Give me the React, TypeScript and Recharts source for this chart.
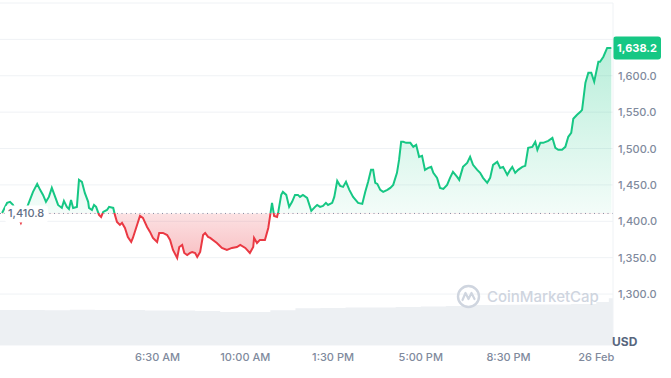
import { ComposedChart, Area, XAxis, YAxis, CartesianGrid, ReferenceLine } from 'recharts';

// minutes since 25 Feb 00:00
const times = [
  18, 30, 37, 44, 49, 63, 80, 92, 102, 109, 116, 123, 130, 137, 145, 152, 161, 166, 173, 178,
  183, 188, 197, 202, 209, 216, 224, 226, 233, 238, 243, 250, 255, 260, 269, 274, 284, 288, 293, 300,
  305, 312, 319, 327, 331, 341, 348, 355, 365, 372, 379, 389, 394, 403, 413, 420, 427, 437, 442, 449,
  454, 461, 468, 473, 480, 485, 492, 499, 504, 511, 516, 532, 544, 556, 568, 580, 588, 600, 611, 619,
  621, 628, 635, 647, 655, 659, 664, 669, 676, 679, 686, 690, 698, 705, 712, 719, 726, 731, 738, 748,
  758, 767, 772, 779, 786, 793, 798, 808, 813, 820, 827, 834, 841, 849, 858, 870, 880, 887, 894, 901,
  906, 911, 916, 923, 930, 940, 947, 954, 963, 968, 973, 978, 985, 995, 1002, 1009, 1016, 1023, 1030, 1038,
  1045, 1050, 1059, 1066, 1074, 1083, 1090, 1097, 1107, 1112, 1121, 1131, 1138, 1145, 1155, 1162, 1169, 1179, 1186, 1193,
  1203, 1210, 1217, 1227, 1234, 1239, 1246, 1253, 1263, 1270, 1277, 1287, 1294, 1299, 1306, 1313, 1325, 1335, 1342, 1349,
  1358, 1366, 1373, 1380, 1385, 1394, 1402, 1406, 1414, 1421, 1428, 1435, 1445, 1449, 1457, 1466, 1476,
];

const prices = [
  1411.5, 1425.3, 1426.7, 1422.5, 1415.6, 1397.8, 1422.5, 1440.4, 1451.4, 1443.2, 1436.3, 1426.7, 1433.5, 1445.9, 1433.5, 1422.5, 1418.4, 1428.0, 1419.8, 1417.0,
  1429.4, 1418.4, 1419.8, 1456.9, 1454.2, 1439.0, 1426.7, 1418.4, 1415.6, 1422.5, 1419.8, 1408.8, 1406.0, 1412.9, 1415.6, 1419.8, 1418.4, 1408.8, 1399.1, 1395.0,
  1397.8, 1390.9, 1378.5, 1371.6, 1377.1, 1395.0, 1407.4, 1404.6, 1392.2, 1385.4, 1377.1, 1371.6, 1384.0, 1384.0, 1381.2, 1374.4, 1360.6, 1349.6, 1364.7, 1367.5,
  1356.5, 1353.7, 1356.5, 1357.8, 1356.5, 1351.0, 1357.8, 1381.2, 1384.0, 1378.5, 1377.1, 1370.2, 1363.4, 1360.6, 1363.4, 1364.7, 1367.5, 1363.4, 1356.5, 1364.7,
  1377.1, 1370.2, 1374.4, 1374.4, 1390.9, 1406.0, 1425.3, 1407.4, 1406.0, 1412.9, 1436.3, 1440.4, 1436.3, 1419.8, 1426.7, 1436.3, 1436.3, 1433.5, 1436.3, 1432.2,
  1414.3, 1419.8, 1422.5, 1419.8, 1421.1, 1425.3, 1422.5, 1425.3, 1433.5, 1455.5, 1448.7, 1447.3, 1454.2, 1443.2, 1433.5, 1425.3, 1423.9, 1440.4, 1454.2, 1470.7,
  1470.7, 1452.8, 1451.4, 1443.2, 1440.4, 1443.2, 1445.9, 1450.0, 1466.6, 1484.4, 1509.2, 1509.2, 1507.8, 1507.8, 1502.3, 1505.1, 1488.6, 1490.0, 1470.7, 1473.4,
  1474.8, 1466.6, 1459.7, 1445.9, 1444.5, 1450.0, 1459.7, 1467.9, 1461.0, 1456.9, 1474.8, 1480.3, 1488.6, 1477.6, 1470.7, 1466.6, 1459.7, 1452.8, 1459.7, 1477.6,
  1481.7, 1473.4, 1474.8, 1463.8, 1470.7, 1474.8, 1466.6, 1470.7, 1474.8, 1476.2, 1501.0, 1502.3, 1509.2, 1498.2, 1507.8, 1507.8, 1510.6, 1514.7, 1501.0, 1498.2,
  1498.2, 1502.3, 1516.1, 1521.6, 1540.9, 1546.4, 1550.5, 1553.2, 1590.4, 1604.2, 1604.2, 1591.8, 1619.3, 1619.3, 1626.2, 1638.2, 1638.2,
];

// hourly volume (arbitrary units)
const volTimes = [13, 60, 120, 180, 240, 300, 360, 420, 480, 540, 600, 660, 720, 780, 840, 900, 960, 1020, 1080, 1140, 1200, 1260, 1320, 1380, 1440, 1470, 1480];
const volumes = [30.7, 30.7, 30.5, 31.0, 30.8, 30.6, 30.3, 30.2, 29.8, 29.0, 28.9, 30.5, 32.3, 32.5, 32.8, 33.0, 33.4, 33.7, 34.2, 35.0, 35.2, 35.5, 35.6, 36.0, 37.8, 41.0, 41.0];

const xTicks = [390, 600, 810, 1020, 1230, 1440];
const xTickLabels = ['6:30 AM', '10:00 AM', '1:30 PM', '5:00 PM', '8:30 PM', '26 Feb'];
const yTicks = [1300, 1350, 1400, 1450, 1500, 1550, 1600, 1650, 1700];
const openPrice = 1410.8;
const lastPrice = 1638.2;

const GREEN = '#16c784';
const RED = '#ea3943';
const FONT = 'Inter, sans-serif';

const data = times.map((t, i) => ({ t, price: prices[i] }));
const volData = volTimes.map((t, i) => ({ t, volume: volumes[i] }));

const maxP = Math.max(...prices);
const minP = Math.min(...prices);
const off = (maxP - openPrice) / (maxP - minP);

const fmt = (v: number) => v.toLocaleString('en-US', { minimumFractionDigits: 1, maximumFractionDigits: 1 });

function PriceTick(props: any) {
  const { x, y, payload } = props;
  if (payload.value > 1600) return null;
  return (
    <text x={x} y={y} dy={4} fill="#808a9d" fontSize={11} fontWeight={500} fontFamily={FONT} textAnchor="start">
      {fmt(payload.value)}
    </text>
  );
}

function OpenLabel(props: any) {
  const { viewBox } = props;
  const x = viewBox.x + 5;
  const y = viewBox.y;
  return (
    <g>
      <rect x={x} y={y - 8} width={43} height={17} rx={3} fill="#fff" />
      <text x={x + 3} y={y} dy={4} fill="#616e85" fontSize={11} fontWeight={500} fontFamily={FONT}>
        {fmt(openPrice)}
      </text>
    </g>
  );
}

function LastBadge(props: any) {
  const { viewBox } = props;
  const x = viewBox.x + viewBox.width;
  const y = viewBox.y;
  return (
    <g>
      <rect x={x} y={y - 11.5} width={48} height={23} rx={3} fill={GREEN} />
      <text x={x + 24} y={y} dy={4} fill="#fff" fontSize={11} fontWeight={700} fontFamily={FONT} textAnchor="middle">
        {fmt(lastPrice)}
      </text>
    </g>
  );
}

export default function App() {
  return (
    <div style={{ position: 'absolute', left: 0, top: 0, width: 671, height: 378, fontFamily: FONT, background: '#fff' }}>
      <ComposedChart width={671} height={378} data={data} margin={{ top: 3, right: 0, bottom: 3, left: 0 }}>
        <defs>
          <linearGradient id="strokeGrad" x1="0" y1="0" x2="0" y2="1">
            <stop offset={off} stopColor={GREEN} />
            <stop offset={off} stopColor={RED} />
          </linearGradient>
          <linearGradient id="fillGrad" x1="0" y1="0" x2="0" y2="1">
            <stop offset={0} stopColor={GREEN} stopOpacity={0.3} />
            <stop offset={off} stopColor={GREEN} stopOpacity={0.05} />
            <stop offset={off} stopColor={RED} stopOpacity={0.15} />
            <stop offset={1} stopColor={RED} stopOpacity={0.32} />
          </linearGradient>
        </defs>
        <CartesianGrid vertical={false} stroke="#eff2f5" yAxisId="price" />
        <XAxis
          dataKey="t"
          type="number"
          domain={[13, 1480]}
          allowDataOverflow
          ticks={xTicks}
          tickFormatter={(v) => xTickLabels[xTicks.indexOf(v)]}
          axisLine={false}
          tickLine={false}
          tickSize={0}
          tickMargin={8}
          tick={{ fill: '#808a9d', fontSize: 11, fontWeight: 500, fontFamily: FONT }}
        />
        <YAxis
          yAxisId="price"
          orientation="right"
          width={58}
          domain={[1230, 1700]}
          allowDataOverflow
          ticks={yTicks}
          tickLine={false}
          tickSize={0}
          tickMargin={5}
          axisLine={{ stroke: '#eff2f5' }}
          tick={<PriceTick />}
        />
        <YAxis yAxisId="vol" hide domain={[0, 300]} allowDataOverflow />
        <Area
          yAxisId="vol"
          data={volData}
          dataKey="volume"
          type="stepAfter"
          stroke="none"
          fill="#edf0f3"
          fillOpacity={1}
          isAnimationActive={false}
        />
        <Area
          yAxisId="price"
          dataKey="price"
          type="linear"
          baseValue={openPrice}
          stroke="url(#strokeGrad)"
          strokeWidth={2}
          fill="url(#fillGrad)"
          fillOpacity={1}
          dot={false}
          activeDot={false}
          isAnimationActive={false}
        />
        <ReferenceLine
          yAxisId="price"
          y={openPrice}
          stroke="#858ca2"
          strokeDasharray="1 3.5"
          label={<OpenLabel />}
        />
        <ReferenceLine yAxisId="price" y={lastPrice} stroke="none" label={<LastBadge />} />
      </ComposedChart>
      <div style={{ position: 'absolute', left: 456, top: 284, display: 'flex', alignItems: 'center', gap: 6, color: '#cfd5df' }}>
        <svg width={25} height={25} viewBox="0 0 25 25">
          <circle cx={12.5} cy={12.5} r={10.5} fill="none" stroke="#cfd5df" strokeWidth={2.4} />
          <path d="M6.5 16 L9.5 9 L12.5 15 L15.5 9 L18.5 15" fill="none" stroke="#cfd5df" strokeWidth={2.2} strokeLinejoin="round" strokeLinecap="round" />
        </svg>
        <span style={{ fontSize: 15, fontWeight: 500 }}>CoinMarketCap</span>
      </div>
      <div style={{ position: 'absolute', left: 612, top: 334, fontSize: 12, fontWeight: 700, color: '#58667e' }}>USD</div>
    </div>
  );
}
